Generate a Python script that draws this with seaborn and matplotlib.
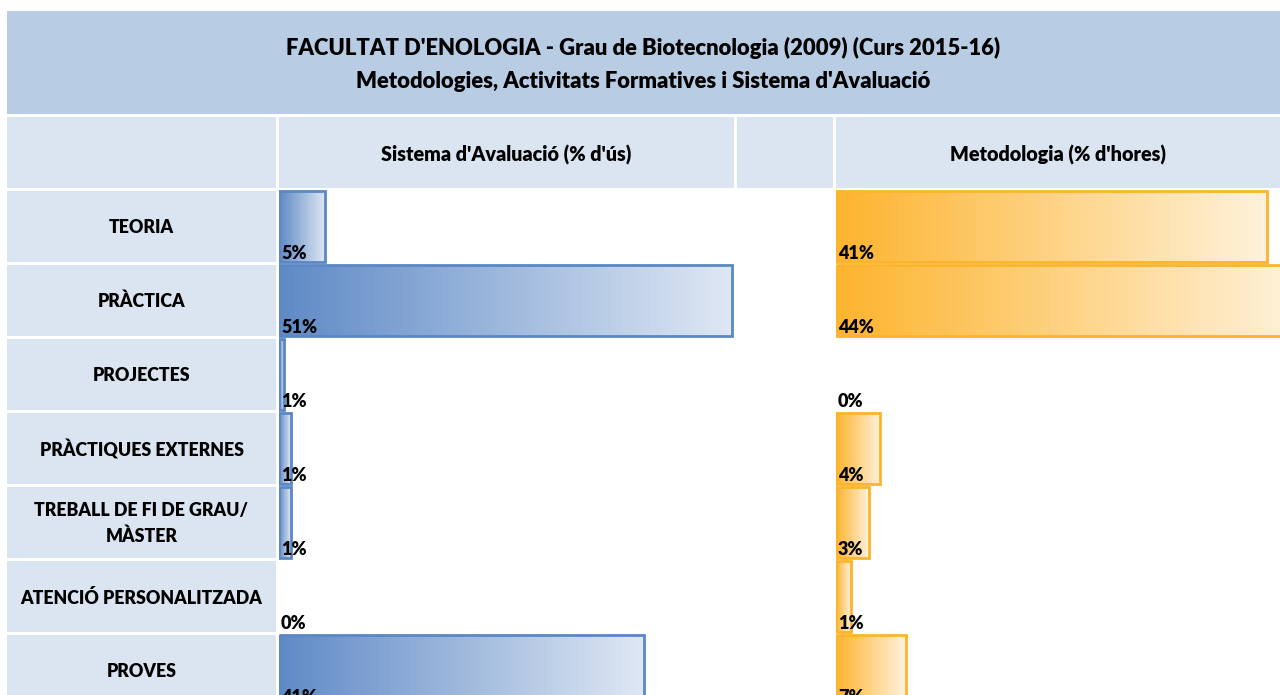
import numpy as np
import pandas as pd
import matplotlib
matplotlib.use("Agg")
import matplotlib.pyplot as plt
from matplotlib.patches import Rectangle
from matplotlib.colors import LinearSegmentedColormap
import seaborn as sns

# ---------------- data ----------------
title_lines = ["FACULTAT D'ENOLOGIA - Grau de Biotecnologia (2009) (Curs 2015-16)",
               "Metodologies, Activitats Formatives i Sistema d'Avaluació"]
header_left = "Sistema d'Avaluació (% d'ús)"
header_right = "Metodologia (% d'hores)"
categories = ["TEORIA", "PRÀCTICA", "PROJECTES", "PRÀCTIQUES EXTERNES",
              "TREBALL DE FI DE GRAU/\nMÀSTER", "ATENCIÓ PERSONALITZADA", "PROVES"]
avaluacio = [5.2, 50.7, 0.6, 1.3, 1.3, 0.0, 40.9]
metodologia = [40.9, 43.9, 0.0, 4.2, 3.1, 1.4, 6.6]

# ---------------- style ----------------
sns.set_theme(style="white")
plt.rcParams['font.family'] = ['Lato', 'DejaVu Sans']
WEIGHT = 'heavy'

W, H = 1280, 695
fig = plt.figure(figsize=(12.8, 6.95), dpi=100)

TITLE_C = '#b8cce4'
CELL_C = '#dbe5f1'
TXT = '#000000'

bg = fig.add_axes([0, 0, 1, 1])
bg.set_xlim(0, W)
bg.set_ylim(H, 0)
bg.axis('off')

bg.add_patch(Rectangle((7, 11), W - 7, 103, color=TITLE_C, lw=0))
for x0, x1 in [(7, 276), (279, 734), (737, 833), (836, W)]:
    bg.add_patch(Rectangle((x0, 117), x1 - x0, 71, color=CELL_C, lw=0))

row_top0, pitch, cell_h = 190.7, 74.0, 71.6
for i, cat in enumerate(categories):
    top = row_top0 + pitch * i
    bg.add_patch(Rectangle((7, top), 269, cell_h, color=CELL_C, lw=0))
    bg.text(141.5, top + cell_h / 2 + 1, cat, ha='center', va='center',
            fontsize=12.8, fontweight=WEIGHT, color=TXT, linespacing=1.55)

bg.text(643.5, 48, title_lines[0], ha='center', va='center', fontsize=15.8,
        fontweight=WEIGHT, color=TXT)
bg.text(643.5, 81, title_lines[1], ha='center', va='center', fontsize=15.8,
        fontweight=WEIGHT, color=TXT)
bg.text(506.5, 155, header_left, ha='center', va='center', fontsize=14.2,
        fontweight=WEIGHT, color=TXT)
bg.text(1058, 155, header_right, ha='center', va='center', fontsize=14.2,
        fontweight=WEIGHT, color=TXT)

df = pd.DataFrame({'cat': categories, 'aval': avaluacio, 'metod': metodologia})

blue_cmap = LinearSegmentedColormap.from_list('b', ['#5f8ac6', '#dfe8f4'])
orange_cmap = LinearSegmentedColormap.from_list('o', ['#fdb42e', '#fff2dc'])

n = len(categories)
ax_top_px = row_top0 + cell_h / 2 - pitch / 2
ax_h_px = pitch * n


def bar_panel(x_px, w_px, col, px_per_unit, cmap, edge):
    rect = [x_px / W, 1 - (ax_top_px + ax_h_px) / H, w_px / W, ax_h_px / H]
    ax = fig.add_axes(rect)
    ax.patch.set_alpha(0)
    sns.barplot(data=df, y='cat', x=col, orient='h', ax=ax, width=0.95,
                color='white', saturation=1, edgecolor=edge, linewidth=2)
    xmax = w_px / px_per_unit
    grad = np.linspace(0, 1, 256).reshape(1, -1)
    for p in list(ax.patches):
        x0, y0 = p.get_x(), p.get_y()
        w, h = p.get_width(), p.get_height()
        if w <= 0:
            p.set_visible(False)
            continue
        ax.imshow(grad, cmap=cmap, extent=[x0, x0 + w, y0 + h, y0],
                  aspect='auto', interpolation='bilinear', zorder=1)
        p.set_facecolor('none')
        p.set_zorder(2)
    for i, v in enumerate(df[col]):
        ax.annotate(f"{int(np.floor(v + 0.5))}%", xy=(0, i + 0.475),
                    xytext=(2, 3), textcoords='offset pixels', ha='left',
                    va='baseline', fontsize=13, fontweight=WEIGHT,
                    color='black', zorder=3, annotation_clip=False)
    ax.set_xlim(0, xmax)
    ax.set_ylim(n - 0.5, -0.5)
    ax.axis('off')
    return ax


bar_panel(279, 455, 'aval', 8.935, blue_cmap, '#5b87c5')
bar_panel(836, 444, 'metod', 10.54, orange_cmap, '#fbb42c')

fig.savefig('out.png', dpi=100)
